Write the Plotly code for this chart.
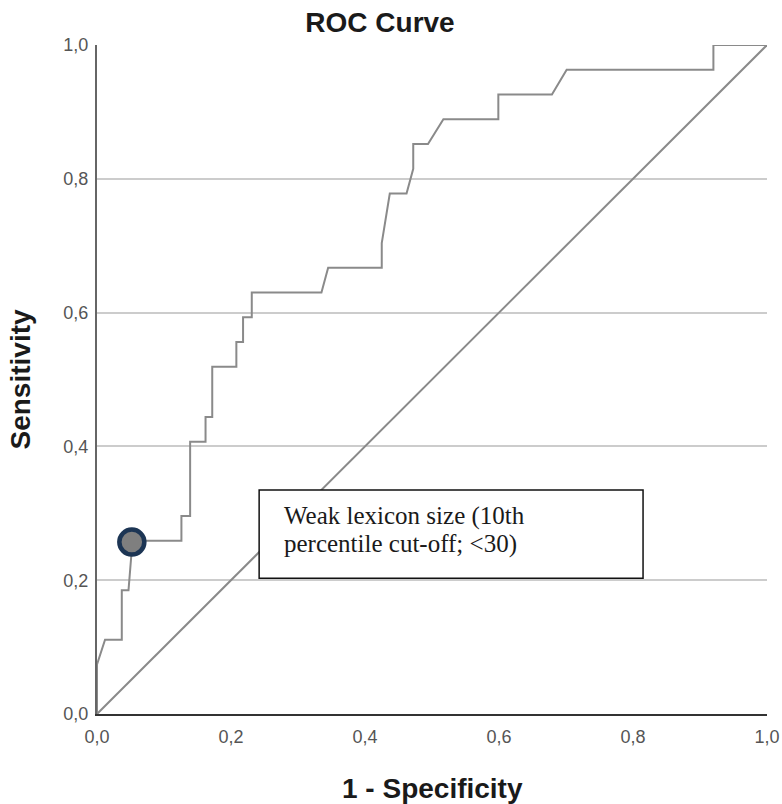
import plotly.graph_objects as go

# ROC curve (1 - specificity, sensitivity)
roc_fpr = [0.0, 0.0, 0.012, 0.037, 0.037, 0.047, 0.053, 0.126, 0.126, 0.139, 0.139,
           0.162, 0.162, 0.172, 0.172, 0.208, 0.208, 0.218, 0.218, 0.231, 0.231,
           0.335, 0.345, 0.425, 0.425, 0.437, 0.462, 0.472, 0.472, 0.494, 0.517,
           0.599, 0.599, 0.679, 0.701, 0.920, 0.920, 1.0]
roc_tpr = [0.0, 0.074, 0.111, 0.111, 0.185, 0.185, 0.259, 0.259, 0.296, 0.296, 0.407,
           0.407, 0.444, 0.444, 0.519, 0.519, 0.556, 0.556, 0.593, 0.593, 0.630,
           0.630, 0.667, 0.667, 0.704, 0.778, 0.778, 0.815, 0.852, 0.852, 0.889,
           0.889, 0.926, 0.926, 0.963, 0.963, 1.0, 1.0]

# reference (chance) line
ref_x = [0.0, 1.0]
ref_y = [0.0, 1.0]

# highlighted cut-off point
cut_x = [0.052]
cut_y = [0.257]
cut_label = ["Weak lexicon size (10th", "percentile cut-off; <30)"]

tick_vals = [0.0, 0.2, 0.4, 0.6, 0.8, 1.0]
tick_text = ["0,0", "0,2", "0,4", "0,6", "0,8", "1,0"]

title_text = "ROC Curve"
x_title = "1 - Specificity"
y_title = "Sensitivity"

W, H = 782, 804
L, R, T, B = 97, 15, 45, 90

fig = go.Figure()
fig.add_trace(go.Scatter(x=ref_x, y=ref_y, mode="lines",
                         line=dict(color="#8a8a8a", width=2), hoverinfo="skip",
                         cliponaxis=False, showlegend=False))
fig.add_trace(go.Scatter(x=roc_fpr, y=roc_tpr, mode="lines",
                         line=dict(color="#8a8a8a", width=2), cliponaxis=False,
                         showlegend=False))
fig.add_trace(go.Scatter(x=cut_x, y=cut_y, mode="markers",
                         marker=dict(size=25, color="#7f7f7f",
                                     line=dict(color="#1c3554", width=4.5)),
                         cliponaxis=False, showlegend=False))

# label box
fig.add_shape(type="rect", xref="x", yref="y", x0=0.242, x1=0.815, y0=0.203, y1=0.335,
              line=dict(color="#111111", width=1.5), fillcolor="white", layer="above")
fig.add_annotation(x=0.276, y=0.2965, xref="x", yref="y", text=cut_label[0],
                   showarrow=False, xanchor="left", yanchor="middle",
                   font=dict(family="Liberation Serif, Times New Roman, serif", size=25, color="#1a1a1a"))
fig.add_annotation(x=0.276, y=0.254, xref="x", yref="y", text=cut_label[1],
                   showarrow=False, xanchor="left", yanchor="middle",
                   font=dict(family="Liberation Serif, Times New Roman, serif", size=25, color="#1a1a1a"))

# axis titles
fig.add_annotation(x=0.5, y=0, xref="paper", yref="paper", text=x_title, showarrow=False,
                   xanchor="center", yanchor="middle", yshift=-74,
                   font=dict(family="Liberation Sans, Arial, sans-serif", size=28, color="#1a1a1a", weight="bold"))
fig.add_annotation(x=0, y=0.5, xref="paper", yref="paper", text=y_title, showarrow=False,
                   textangle=-90, xanchor="center", yanchor="middle", xshift=-77,
                   font=dict(family="Liberation Sans, Arial, sans-serif", size=28, color="#1a1a1a", weight="bold"))

fig.update_layout(
    width=W, height=H,
    margin=dict(l=L, r=R, t=T, b=B, autoexpand=False),
    paper_bgcolor="white", plot_bgcolor="white",
    title=dict(text=title_text, x=380 / W, xref="container", xanchor="center",
               y=1 - 22 / H, yref="container", yanchor="middle",
               font=dict(family="Liberation Sans, Arial, sans-serif", size=28, color="#1a1a1a", weight="bold")),
    font=dict(family="Liberation Sans, Arial, sans-serif"),
)
fig.update_xaxes(range=[0, 1], tickvals=tick_vals, ticktext=tick_text, showgrid=False,
                 zeroline=False, showline=True, linecolor="#333333", linewidth=2,
                 ticks="", ticklabelstandoff=5, automargin=False,
                 tickfont=dict(size=18, color="#555555"), fixedrange=True)
fig.update_yaxes(range=[0, 1], tickvals=tick_vals, ticktext=tick_text, showgrid=True,
                 gridcolor="#cccccc", gridwidth=1.5, zeroline=False, showline=True,
                 linecolor="#666666", linewidth=2, ticks="", ticklabelstandoff=3,
                 automargin=False,
                 tickfont=dict(size=18, color="#555555"), fixedrange=True)

fig.write_html("out.html", config={"displayModeBar": False},
               post_script="document.body.style.margin='0px';document.body.style.overflow='hidden';")
